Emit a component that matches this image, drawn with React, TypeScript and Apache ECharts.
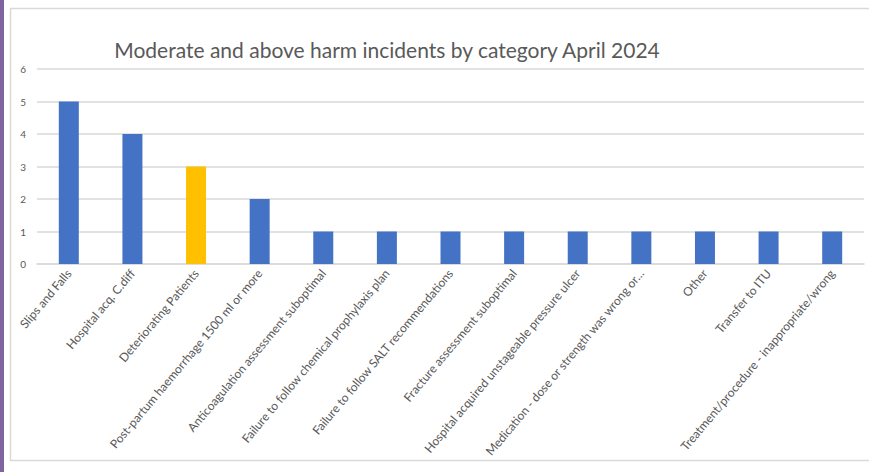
import React, { useEffect, useRef } from "react";
import * as echarts from "echarts";

const categories: string[] = [
  "Slips and Falls",
  "Hospital acq. C.diff",
  "Deteriorating Patients",
  "Post-partum haemorrhage 1500 ml or more",
  "Anticoagulation assessment suboptimal",
  "Failure to follow chemical prophylaxis plan",
  "Failure to follow SALT recommendations",
  "Fracture assessment suboptimal",
  "Hospital acquired unstageable pressure ulcer",
  "Medication - dose or strength was wrong or…",
  "Other",
  "Transfer to ITU",
  "Treatment/procedure - inappropriate/wrong",
];
const incidents: number[] = [5, 4, 3, 2, 1, 1, 1, 1, 1, 1, 1, 1, 1];
const highlightIndex = 2;
const yTicks = { min: 0, max: 6, interval: 1 };
const titleText = "Moderate and above harm incidents by category April 2024";

export default function App() {
  const ref = useRef<HTMLDivElement>(null);
  useEffect(() => {
    document.body.style.margin = "0";
    const chart = echarts.init(ref.current!, null, { renderer: "svg" });
    const font = "Lato, 'Open Sans', sans-serif";
    chart.setOption({
      animation: false,
      backgroundColor: "#ffffff",
      textStyle: { fontFamily: font },
      title: {
        text: titleText,
        left: 382,
        textAlign: "center",
        top: 34,
        textStyle: { fontFamily: font, fontSize: 21, fontWeight: "normal", color: "#595959" },
      },
      graphic: [
        { type: "rect", shape: { x: 0, y: 0, width: 4, height: 472 }, style: { fill: "#8064A2" }, silent: true },
        {
          type: "polyline",
          shape: { points: [[869, 8.5], [10.5, 8.5], [10.5, 460.5], [869, 460.5]] },
          style: { stroke: "#d9d9d9", fill: "none", lineWidth: 1.5 },
          silent: true,
        },
      ],
      grid: { left: 37, right: 5, top: 69, bottom: 208, containLabel: false },
      xAxis: {
        type: "category",
        data: categories,
        axisTick: { show: false },
        axisLine: { lineStyle: { color: "#d9d9d9", width: 1.5 } },
        axisLabel: {
          interval: 0,
          rotate: 50,
          fontSize: 12,
          color: "#595959",
          margin: 7,
          fontFamily: font,
        },
      },
      yAxis: {
        type: "value",
        min: yTicks.min,
        max: yTicks.max,
        interval: yTicks.interval,
        axisLine: { show: false },
        axisTick: { show: false },
        axisLabel: { fontSize: 10, color: "#595959", margin: 11, fontFamily: font },
        splitLine: { lineStyle: { color: "#d9d9d9", width: 1.5 } },
      },
      series: [
        {
          type: "bar",
          barWidth: 20,
          data: incidents.map((v, i) => ({
            value: v,
            itemStyle: { color: i === highlightIndex ? "#FFC000" : "#4472C4" },
          })),
        },
      ],
    });
    return () => chart.dispose();
  }, []);
  return <div ref={ref} style={{ width: 869, height: 472 }} />;
}
